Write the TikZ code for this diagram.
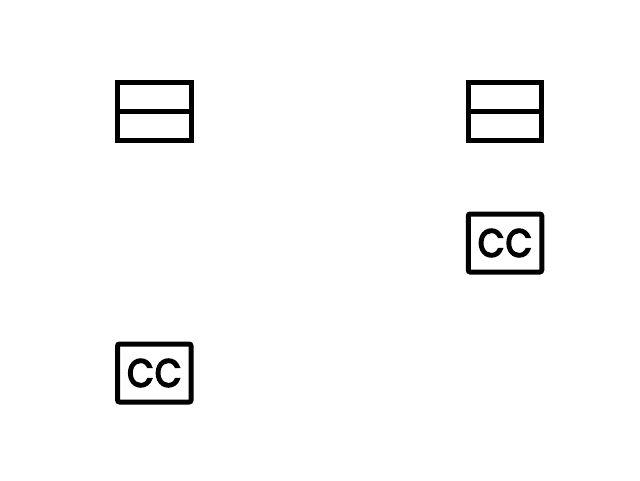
\documentclass[tikz,border=0pt]{standalone}
\usepackage{fontspec}
\setmainfont{Poppins}
\newfontfamily\ccfont[FakeStretch=0.87,FakeBold=4.5,LetterSpace=4]{Poppins}
\tikzset{
  cell/.style={draw=black,line width=5pt,minimum width=73.5pt,minimum height=58pt,inner sep=0pt,fill=white},
  splitbox/.style={cell},
  ccbox/.style={cell,rounded corners=2pt,font=\ccfont\fontsize{39}{39}\selectfont},
  divider/.style={draw=black,line width=5pt}
}
\begin{document}
\begin{tikzpicture}[x=1pt,y=-1pt]
\useasboundingbox[fill=white] (0,0) rectangle (640,480);
\node[splitbox] (a) at (154.3,111.5) {};
\node[splitbox] (b) at (505,111.5) {};
\node[ccbox] (c) at (505,243) {CC};
\node[ccbox] (d) at (154.3,373) {CC};
\draw[divider] (a.west) -- (a.east);
\draw[divider] (b.west) -- (b.east);
\end{tikzpicture}
\end{document}
